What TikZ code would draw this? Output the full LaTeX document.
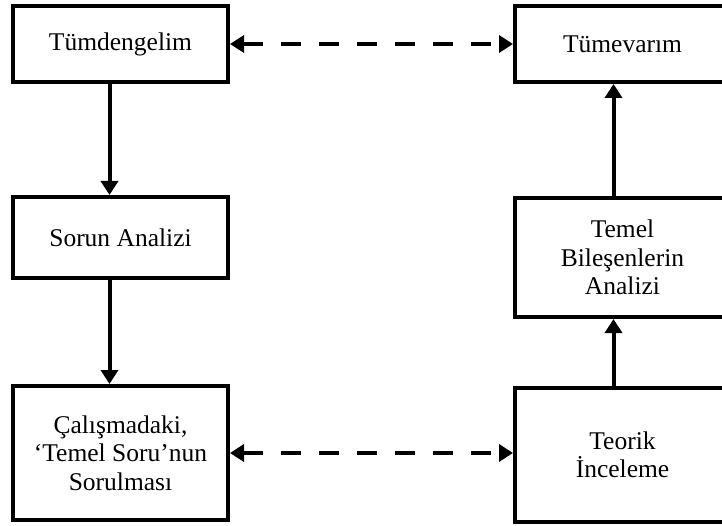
\documentclass[tikz,border=0pt]{standalone}
\usepackage{fontspec}
\setmainfont{Liberation Serif}
\usetikzlibrary{arrows.meta,positioning}

\begin{document}
\begin{tikzpicture}[x=1pt,y=1pt,>={Triangle[length=14pt,width=17pt]},
  blok/.style={draw,line width=4pt,align=center,minimum width=215pt,font=\fontsize{25.5}{28.5}\selectfont},
  ok/.style={->,line width=4pt},
  kesik/.style={<->,line width=4pt,dash pattern=on 20pt off 18pt}]
\clip (0,0) rectangle (722,-526);
\fill[white] (0,0) rectangle (722,-526);

% sol sutun
\node[blok,minimum height=76pt] (tumden) at (120.5,-44) {Tümdengelim};
\node[blok,minimum height=81pt,below=111pt of tumden] (sorun) {Sorun Analizi};
\node[blok,minimum height=134pt,below=104pt of sorun] (temelsoru) {Çalışmadaki,\\‘Temel Soru’nun\\Sorulması};

% sag sutun
\node[blok,minimum height=76pt,right=283pt of tumden] (tumev) {Tümevarım};
\node[blok,minimum height=119pt,below=112pt of tumev] (bilesen) {Temel\\Bileşenlerin\\Analizi};
\node[blok,minimum height=134pt,below=67pt of bilesen] (teorik) {Teorik\\İnceleme};

\draw[ok] ([xshift=-11pt]tumden.south) -- ([xshift=-11pt]sorun.north);
\draw[ok] ([xshift=-11pt]sorun.south) -- ([xshift=-11pt]temelsoru.north);
\draw[ok] ([xshift=-9pt]teorik.north) -- ([xshift=-9pt]bilesen.south);
\draw[ok] ([xshift=-9pt]bilesen.north) -- ([xshift=-9pt]tumev.south);

\draw[kesik] (tumden.east) -- (tumev.west);
\draw[kesik] (temelsoru.east) -- (temelsoru.east -| teorik.west);
\end{tikzpicture}
\end{document}
